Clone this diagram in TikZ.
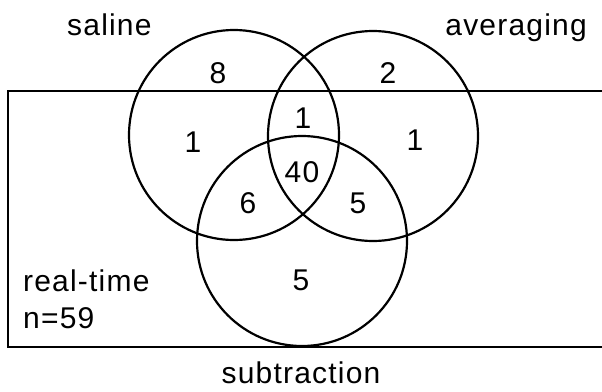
\documentclass[tikz,border=0pt]{standalone}
\usepackage{fontspec}
\setmainfont{Liberation Sans}
\newfontfamily\lblfont[LetterSpace=4]{Liberation Sans}
\usetikzlibrary{positioning}

\tikzset{
  venn/.style={draw, circle, line width=2.2pt, minimum size=210pt, inner sep=0pt},
  cnt/.style={inner sep=0pt, font=\lblfont\fontsize{30}{36}\selectfont},
  setname/.style={inner sep=0pt, font=\lblfont\fontsize{30}{36}\selectfont}
}

\begin{document}
\begin{tikzpicture}[x=1pt, y=-1pt]
\useasboundingbox (0,0) rectangle (602,391);

% frame for real-time, open at the right edge
\draw[line width=2.4pt] (602,91) -- (8,91) -- (8,347) -- (602,347);

\node[venn] (saline) at (234,135) {};
\node[venn] (averaging) at (373,136) {};
\node[venn] (subtraction) at (302,241) {};

\node[setname, anchor=base west] (salinelbl) at (67,35) {saline};
\node[setname, anchor=base east] (averaginglbl) at (587,35) {averaging};
\node[setname, anchor=base] (subtractionlbl) at (301,383) {subtraction};
\node[setname, anchor=base west] (realtimelbl) at (23,291) {real-time};
\node[setname, anchor=base west] (nlbl) at (23,328) {n=59};

% counts
\node[cnt] (sOnly) at (218,73) {8};
\node[cnt] (aOnly) at (388,73) {2};
\node[cnt] (sr) at (193,142) {1};
\node[cnt] (sar) at (303,118) {1};
\node[cnt] (ar) at (415,140) {1};
\node[cnt] (all) at (302,172) {40};
\node[cnt] (ssr) at (248,203) {6};
\node[cnt] (asr) at (358,203) {5};
\node[cnt] (subr) at (301,280) {5};
\end{tikzpicture}
\end{document}
